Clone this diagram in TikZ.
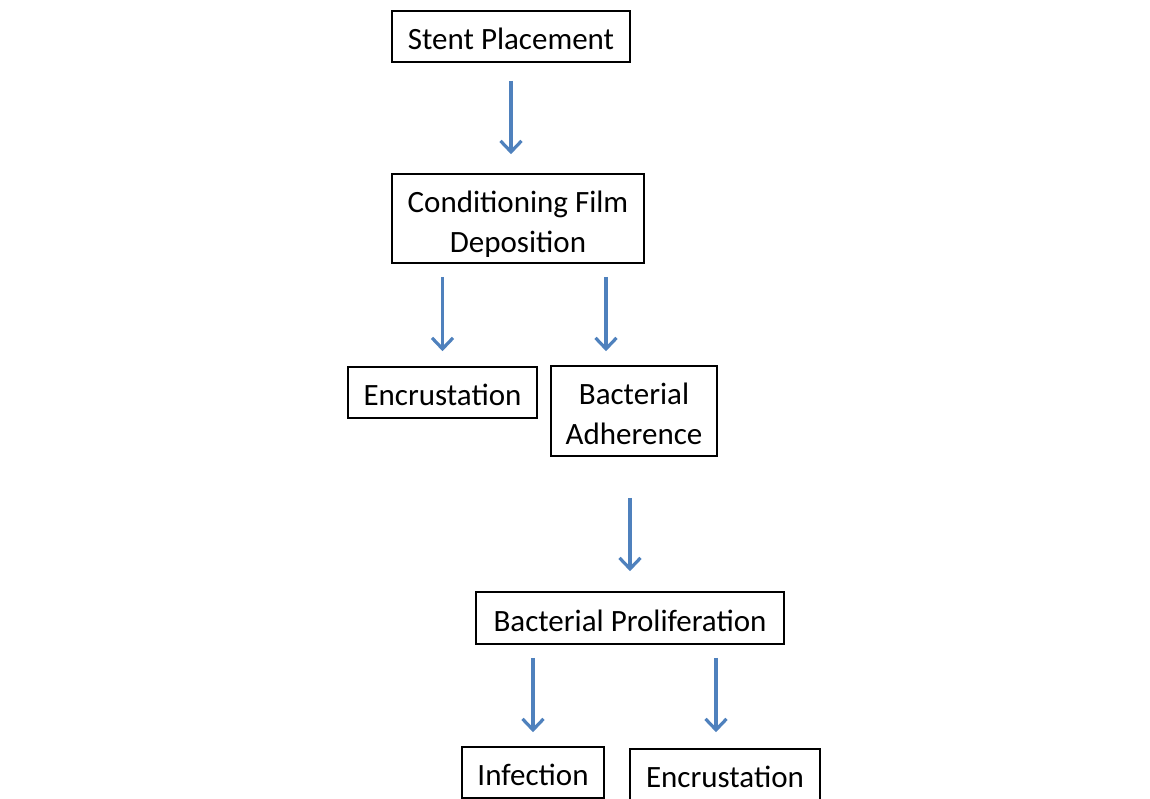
\documentclass[tikz,border=0pt]{standalone}
\usepackage{fontspec}
\setmainfont{Carlito}
\usepackage{tikz}
\usetikzlibrary{arrows.meta}

\definecolor{arrowblue}{RGB}{79,129,189}

\begin{document}
\begin{tikzpicture}[x=0.5pt, y=-0.5pt]
    % Styles
    \tikzstyle{stage} = [rectangle, draw=black, line width=0.8pt, inner sep=0pt, text height=13.2pt, align=center, font=\fontsize{15.5}{20}\selectfont]
    \tikzstyle{arrow} = [-{Straight Barb[length=5.5pt, width=10.5pt, line width=1.6pt]}, draw=arrowblue, line width=1.6pt]

    % Frame
    \useasboundingbox (0,0) rectangle (1150,798);
    \clip (0,0) rectangle (1150,798);

    % Nodes
    \node[stage, minimum width=119pt, minimum height=25.5pt] (stent) at (511, 36.5) {Stent Placement};
    \node[stage, minimum width=126pt, minimum height=44.5pt, text height=36.7pt] (cond) at (518, 218.5) {Conditioning Film\\Deposition};
    \node[stage, minimum width=94.5pt, minimum height=25.5pt] (enc1) at (442.5, 392.5) {Encrustation};
    \node[stage, minimum width=83pt, minimum height=45pt, text height=33.2pt] (adh) at (634, 411) {Bacterial\\Adherence};
    \node[stage, minimum width=154pt, minimum height=26pt] (prolif) at (630, 618) {Bacterial Proliferation};
    \node[stage, minimum width=71pt, minimum height=25.5pt] (inf) at (533, 772.5) {Infection};
    \node[stage, minimum width=95pt, minimum height=25.5pt] (enc2) at (725, 774.5) {Encrustation};

    % Arrows
    \draw[arrow, shorten <=9pt, shorten >=9.5pt] (stent.south) -- (stent.south |- cond.north);
    \draw[arrow, shorten <=6.5pt, shorten >=7.5pt] (cond.south -| enc1.north) -- (enc1.north);
    \draw[arrow, shorten <=6.5pt, shorten >=7pt] ([xshift=-14pt]adh.north |- cond.south) -- ([xshift=-14pt]adh.north);
    \draw[arrow, shorten <=20.5pt, shorten >=10pt] (adh.south -| prolif.north) -- (prolif.north);
    \draw[arrow, shorten <=6.5pt, shorten >=7pt] (prolif.south -| inf.north) -- (inf.north);
    \draw[arrow, shorten <=6.5pt, shorten >=8pt] ([xshift=-4.5pt]enc2.north |- prolif.south) -- ([xshift=-4.5pt]enc2.north);
\end{tikzpicture}
\end{document}
